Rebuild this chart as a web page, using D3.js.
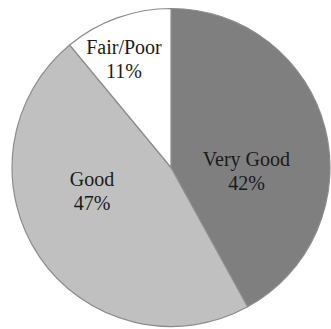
<!DOCTYPE html>
<html>
<head>
<meta charset="utf-8">
<script src="https://cdn.jsdelivr.net/npm/d3@7"></script>
<style>
  html, body { margin: 0; padding: 0; background: #fff; }
  .label { font-family: 'Liberation Serif', 'Times New Roman', Times, serif; }
</style>
</head>
<body>
<div id="viz"></div>
<script>
const width = 331;
const height = 329;

// data
const categories = ['Very Good', 'Good', 'Fair/Poor'];
const shares = [42, 47, 11];
const sliceColors = ['#7f7f7f', '#c0c0c0', '#ffffff'];

const cx = 171;
const cy = 167.5;
const radius = 159;

const rows = categories.map((c, i) => ({ name: c, value: shares[i], color: sliceColors[i] }));

const svg = d3.create('svg')
  .attr('width', width)
  .attr('height', height);

const chart = svg.append('g')
  .attr('transform', `translate(${cx}, ${cy})`);

const pie = d3.pie()
  .sort(null)
  .value(d => d.value);

const arc = d3.arc()
  .innerRadius(0)
  .outerRadius(radius);

const arcs = pie(rows);

chart.selectAll('.slice')
  .data(arcs)
  .enter()
  .append('path')
    .attr('class', 'slice')
    .attr('d', arc)
    .attr('fill', d => d.data.color)
    .attr('stroke', '#8c8c8c')
    .attr('stroke-width', 1.2);

// label placement: point on the mid angle of each slice, nudged like the original
const labelRadius = { 'Very Good': 0.98, 'Good': 1.05, 'Fair/Poor': 1.45 };
const nudge = { 'Very Good': [0, 21], 'Good': [-10, -25], 'Fair/Poor': [-8, -2] };

const labels = chart.selectAll('.label')
  .data(arcs)
  .enter()
  .append('text')
    .attr('class', 'label')
    .attr('transform', d => {
      const a = (d.startAngle + d.endAngle) / 2;
      const r = radius * 0.5 * labelRadius[d.data.name];
      const x = Math.sin(a) * r + nudge[d.data.name][0];
      const y = -Math.cos(a) * r + nudge[d.data.name][1];
      return `translate(${x}, ${y})`;
    })
    .attr('font-family', 'Liberation Serif, Times New Roman, serif')
    .style('text-anchor', 'middle')
    .style('font-size', '20px')
    .style('fill', '#1a1a1a');

labels.append('tspan')
  .attr('x', 0)
  .attr('dy', '-0.15em')
  .text(d => d.data.name);

labels.append('tspan')
  .attr('x', 0)
  .attr('dy', '1.2em')
  .text(d => d.data.value + '%');

d3.select('#viz').node().appendChild(svg.node());
</script>
</body>
</html>
